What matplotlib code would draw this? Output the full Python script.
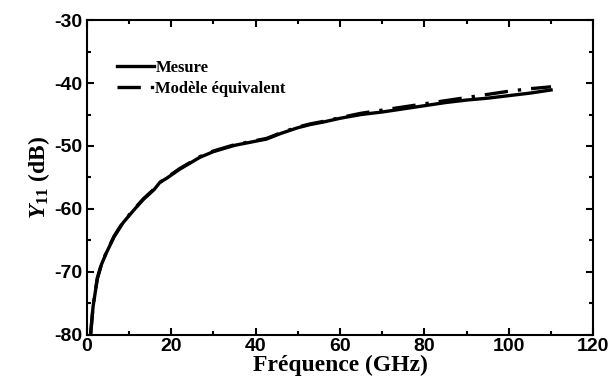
import matplotlib
matplotlib.use('Agg')
import matplotlib.pyplot as plt
from matplotlib.ticker import MultipleLocator

plt.rcParams['axes.unicode_minus'] = False
plt.rcParams['mathtext.fontset'] = 'custom'
plt.rcParams['mathtext.it'] = 'Liberation Serif:italic:bold'
plt.rcParams['mathtext.rm'] = 'Liberation Serif:bold'
plt.rcParams['mathtext.bf'] = 'Liberation Serif:bold'

# frequences (GHz) et Y11 (dB)
freq_mesure = [0.9, 1.5, 2.5, 3.5, 4.7, 6.5, 8.6, 11, 13.4, 16, 17.3, 19, 22, 26.8, 30,
               35, 42.6, 46, 50, 52.9, 56, 60, 65, 70, 75, 80, 85, 90, 95, 100, 105, 110]
y_mesure = [-80, -75.5, -71.1, -68.8, -66.9, -64.4, -62.2, -60.3, -58.5, -56.9, -55.8, -55.1,
            -53.7, -51.8, -50.9, -49.9, -48.9, -48.0, -47.1, -46.6, -46.2, -45.6, -45.0, -44.6,
            -44.1, -43.6, -43.1, -42.7, -42.4, -42.0, -41.6, -41.1]

freq_modele = [0.9, 1.5, 2.5, 3.5, 4.7, 6.5, 8.6, 11, 13.4, 16, 17.3, 19, 22, 26.8, 30,
               35, 42.6, 46, 50, 52.9, 56, 60, 65, 70, 75, 80, 85, 90, 95, 100, 105, 110]
y_modele = [-80, -75.4, -71.0, -68.7, -66.8, -64.3, -62.1, -60.2, -58.4, -56.8, -55.8, -55.0,
            -53.6, -51.7, -50.8, -49.8, -48.8, -47.9, -47.0, -46.5, -46.1, -45.5, -44.8, -44.3,
            -43.8, -43.3, -42.8, -42.3, -41.8, -41.3, -40.9, -40.6]

plt.figure(figsize=(6.11, 3.87), dpi=100)
ax = plt.gca()
plt.subplots_adjust(left=0.142, right=0.971, top=0.948, bottom=0.135)

ax.plot(freq_mesure, y_mesure, color='black', linewidth=2.4, label='Mesure')
ax.plot(freq_modele, y_modele, color='black', linewidth=2.4, linestyle=(0, (7, 3, 1, 3)),
        label='Modèle équivalent')

ax.set_xlim(0, 120)
ax.set_ylim(-80, -30)
ax.xaxis.set_major_locator(MultipleLocator(20))
ax.xaxis.set_minor_locator(MultipleLocator(10))
ax.yaxis.set_major_locator(MultipleLocator(10))
ax.yaxis.set_minor_locator(MultipleLocator(5))
ax.tick_params(which='both', direction='in', top=True, right=True, width=1.5)
ax.tick_params(which='major', length=5, labelsize=14)
ax.tick_params(axis='x', which='major', pad=2)
ax.tick_params(axis='y', which='major', pad=3)
ax.tick_params(which='minor', length=3)
for lab in ax.get_xticklabels() + ax.get_yticklabels():
    lab.set_fontfamily('Liberation Sans')
    lab.set_fontweight('bold')
for s in ax.spines.values():
    s.set_linewidth(1.5)

ax.set_xlabel('Fréquence (GHz)', fontfamily='Liberation Serif', fontweight='bold',
              fontsize=17, labelpad=0)
ax.set_ylabel(r'$\mathit{Y}_{\mathrm{11}}$ (dB)', fontfamily='Liberation Serif',
              fontweight='bold', fontsize=17, labelpad=2)

leg = ax.legend(loc='upper left', bbox_to_anchor=(0.03, 0.92), frameon=False,
                prop={'family': 'Liberation Serif', 'weight': 'bold', 'size': 12},
                handlelength=2.2, handletextpad=0.1, labelspacing=0.3)

plt.savefig('out.png', dpi=100)
plt.close()
